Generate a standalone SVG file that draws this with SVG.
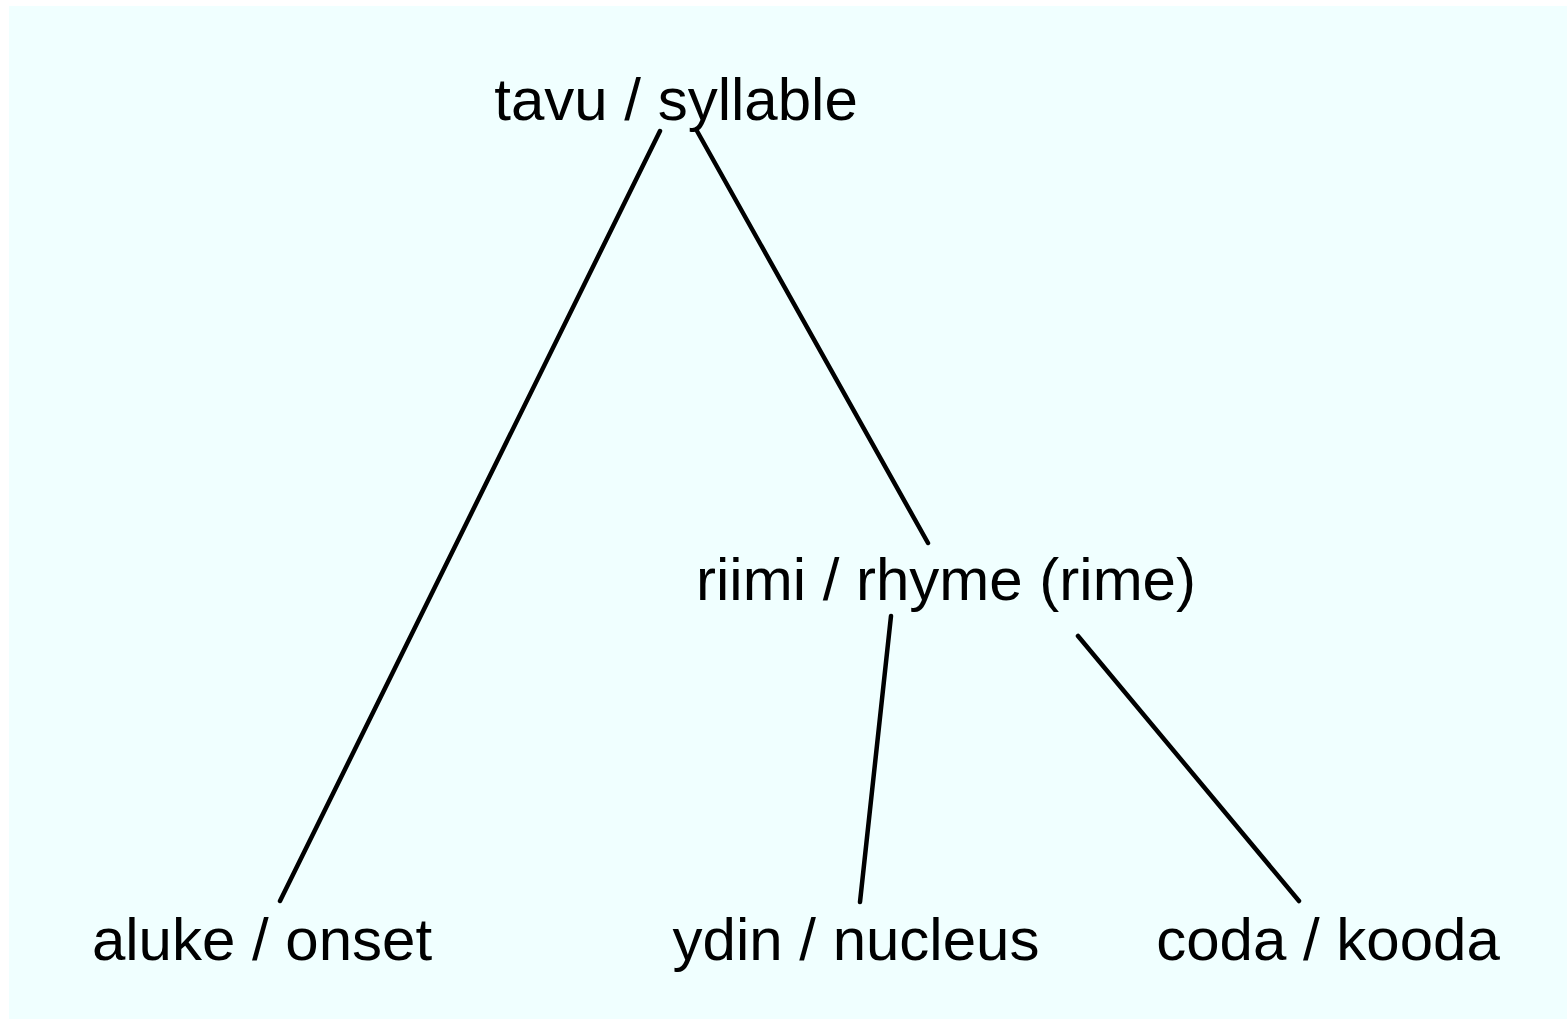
<svg xmlns="http://www.w3.org/2000/svg" width="1567" height="1019" viewBox="0 0 1567 1019">
<style>
.lbl{font-family:"Liberation Sans",Arial,sans-serif;font-size:60px;fill:#000;text-anchor:middle}
.edge{stroke:#000;stroke-width:4.5;stroke-linecap:round;fill:none}
</style>
<rect x="9" y="6" width="1558" height="1013" fill="#F0FFFF"/>
<g id="connectors">
<line class="edge" x1="660" y1="131" x2="280" y2="901"/>
<line class="edge" x1="697" y1="131" x2="928" y2="543"/>
<line class="edge" x1="891" y1="616" x2="860" y2="902"/>
<line class="edge" x1="1078" y1="636" x2="1299" y2="901"/>
</g>
<g id="syllable"><text class="lbl" x="676" y="120">tavu / syllable</text></g>
<g id="rhyme"><text class="lbl" x="946" y="600">riimi / rhyme (rime)</text></g>
<g id="onset"><text class="lbl" x="262" y="960">aluke / onset</text></g>
<g id="nucleus"><text class="lbl" x="856" y="960">ydin / nucleus</text></g>
<g id="coda"><text class="lbl" x="1328" y="960">coda / kooda</text></g>
</svg>
